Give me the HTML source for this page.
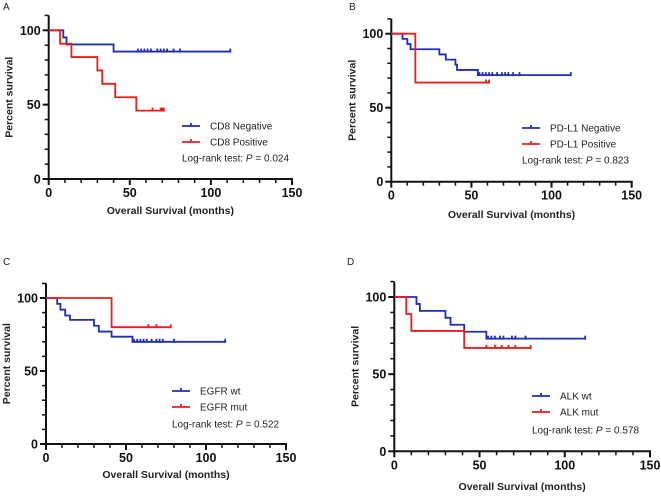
<!DOCTYPE html>
<html><head><meta charset="utf-8"><style>
html,body{margin:0;padding:0;background:#fff;}
svg{display:block;font-family:"Liberation Sans",Arial,sans-serif;}
</style></head><body>
<svg id="fig" width="661" height="496" viewBox="0 0 661 496" xmlns="http://www.w3.org/2000/svg"></svg>
<script>
// ---- data (months, percent survival) ----
const xTicks = [0, 50, 100, 150];
const yTicks = [0, 50, 100];
// Panel A
const aBlueTimes = [0, 9, 11, 40, 112];
const aBlueSurv = [100, 95.2, 90.5, 85.7, 85.7];
const aBlueCens = [55, 57, 59, 61, 63, 67, 69, 71, 73, 77, 81, 112];
const aRedTimes = [0, 7, 14, 30, 33, 41, 54, 71];
const aRedSurv = [100, 91, 82, 73, 64, 55, 46, 46];
const aRedCens = [64, 69, 70, 71];
// Panel B
const bBlueTimes = [0, 7, 10, 12, 30, 34, 40, 41, 54, 112];
const bBlueSurv = [100, 96.5, 93, 89.5, 86, 82.5, 79, 75.5, 72, 72];
const bBlueCens = [55, 57, 59, 61, 63, 66, 69, 71, 73, 76, 80, 112];
const bRedTimes = [0, 15, 61];
const bRedSurv = [100, 67, 67];
const bRedCens = [59, 61];
// Panel C
const cBlueTimes = [0, 7, 9, 12, 15, 30, 33, 41, 54, 112];
const cBlueSurv = [100, 96, 92, 88, 85, 81, 77, 73.5, 70, 70];
const cBlueCens = [55, 57, 59, 61, 63, 66, 69, 71, 73, 80, 112];
const cRedTimes = [0, 41, 78];
const cRedSurv = [100, 80, 80];
const cRedCens = [64, 69, 78];
// Panel D
const dBlueTimes = [0, 13, 15, 30, 33, 41, 54, 112];
const dBlueSurv = [100, 95.5, 91, 86.5, 82, 77.5, 73, 73];
const dBlueCens = [55, 57, 59, 62, 64, 69, 71, 77, 112];
const dRedTimes = [0, 7, 10, 41, 80];
const dRedSurv = [100, 89, 78, 67, 67];
const dRedCens = [54, 59, 63, 67, 71, 80];

const NS = "http://www.w3.org/2000/svg";
const svg = document.getElementById("fig");
function mk(tag, attrs, parent) {
  const e = document.createElementNS(NS, tag);
  for (const k in attrs) e.setAttribute(k, attrs[k]);
  (parent || svg).appendChild(e);
  return e;
}

const panels = [
  {id:"a", letter:"A", lx:3, ly:10, x0:48.7, x150:292, y0:179, y100:30.3,
   blue:[aBlueTimes,aBlueSurv,aBlueCens], red:[aRedTimes,aRedSurv,aRedCens],
   names:["CD8 Negative","CD8 Positive"], p:"0.024",
   legX:182, legY:126, pY:158, titleY:214},
  {id:"b", letter:"B", lx:349, ly:10, x0:391.3, x150:631.7, y0:181.7, y100:33.7,
   blue:[bBlueTimes,bBlueSurv,bBlueCens], red:[bRedTimes,bRedSurv,bRedCens],
   names:["PD-L1 Negative","PD-L1 Positive"], p:"0.823",
   legX:522, legY:128, pY:160, titleY:218},
  {id:"c", letter:"C", lx:3, ly:265, x0:46, x150:286, y0:444, y100:298,
   blue:[cBlueTimes,cBlueSurv,cBlueCens], red:[cRedTimes,cRedSurv,cRedCens],
   names:["EGFR wt","EGFR mut"], p:"0.522",
   legX:172, legY:391, pY:424, titleY:478},
  {id:"d", letter:"D", lx:347, ly:265, x0:394.3, x150:650, y0:451.3, y100:297,
   blue:[dBlueTimes,dBlueSurv,dBlueCens], red:[dRedTimes,dRedSurv,dRedCens],
   names:["ALK wt","ALK mut"], p:"0.578",
   legX:532, legY:396, pY:430, titleY:490}
];

panels.forEach(P => {
  const g = mk("g", {});
  
  
  const sx = v => P.x0 + (P.x150 - P.x0) * v / 150;
  const sy = v => P.y0 + (P.y100 - P.y0) * v / 100;
  const lt = mk("text", {x:P.lx, y:P.ly, "font-size":10, fill:"#222"}, g);
  lt.textContent = P.letter;
  
  
  const ax = mk("g", {stroke:"#111", "stroke-width":2}, g);
  
  
  mk("line", {x1:P.x0, y1:sy(110), x2:P.x0, y2:P.y0+1}, ax);
  mk("line", {x1:P.x0-1, y1:P.y0, x2:P.x150+1, y2:P.y0}, ax);
  for (let v = 0; v <= 110; v += 10) {
    const major = v % 50 === 0;
    mk("line", {x1:P.x0 - (major ? 6 : 4), y1:sy(v), x2:P.x0, y2:sy(v), "stroke-width":major?2:1.5}, ax);
  }
  for (let v = 0; v <= 150; v += 10) {
    mk("line", {x1:sx(v), y1:P.y0, x2:sx(v), y2:P.y0 + 4, "stroke-width":1.5}, ax);
  }
  xTicks.forEach(v => {
    mk("line", {x1:sx(v), y1:P.y0, x2:sx(v), y2:P.y0 + 6}, ax);
    const t = mk("text", {x:sx(v), y:P.y0 + 18, "text-anchor":"middle", "font-size":12.5, "font-weight":"bold", fill:"#111"}, g);
    t.textContent = v;
    
    
  });
  yTicks.forEach(v => {
    const t = mk("text", {x:P.x0 - 8, y:sy(v) + 4.5, "text-anchor":"end", "font-size":12.5, "font-weight":"bold", fill:"#111"}, g);
    t.textContent = v;
    
    
  });
  const xt = mk("text", {x:(P.x0 + P.x150) / 2, y:P.titleY, "text-anchor":"middle", "font-size":10.5, "font-weight":"bold", fill:"#222"}, g);
  xt.textContent = "Overall Survival (months)";
  
  
  const cy = (sy(110) + P.y0) / 2;
  const yt = mk("text", {x:0, y:0, transform:`translate(${P.x0 - 36},${cy}) rotate(-90)`, "text-anchor":"middle", "font-size":10.5, "font-weight":"bold", fill:"#222"}, g);
  yt.textContent = "Percent survival";
  
  
  function curve(series, color, name) {
    const [T, S, C] = series;
    let d = `M${sx(T[0])},${sy(S[0])}`;
    for (let i = 1; i < T.length; i++) {
      d += ` H${sx(T[i])} V${sy(S[i])}`;
    }
    const p = mk("path", {d, fill:"none", stroke:color, "stroke-width":1.8}, g);
    
    
    C.forEach(c => {
      let s = S[0];
      for (let i = 0; i < T.length; i++) if (T[i] <= c) s = S[i];
      const m = mk("line", {x1:sx(c), y1:sy(s) - 3, x2:sx(c), y2:sy(s) + 1, stroke:color, "stroke-width":1.8}, g);
      
      
    });
  }
  curve(P.blue, "#1f2fb4", "negative");
  curve(P.red, "#ee1c1c", "positive");
  [["#1f2fb4", P.names[0]], ["#ee1c1c", P.names[1]]].forEach((e, i) => {
    const y = P.legY + i * 16;
    const lg = mk("g", {}, g);
    
    
    mk("line", {x1:P.legX, y1:y, x2:P.legX + 18, y2:y, stroke:e[0], "stroke-width":1.8}, lg);
    mk("line", {x1:P.legX + 9, y1:y - 3, x2:P.legX + 9, y2:y, stroke:e[0], "stroke-width":1.8}, lg);
    const t = mk("text", {x:P.legX + 28, y:y + 3.5, "font-size":10, fill:"#222"}, lg);
    t.textContent = e[1];
  });
  const pt = mk("text", {x:P.legX, y:P.pY + 3.5, "font-size":10, fill:"#222"}, g);
  pt.innerHTML = 'Log-rank test: <tspan font-style="italic">P</tspan> = ' + P.p;
  
  
});
</script>
</body></html>
